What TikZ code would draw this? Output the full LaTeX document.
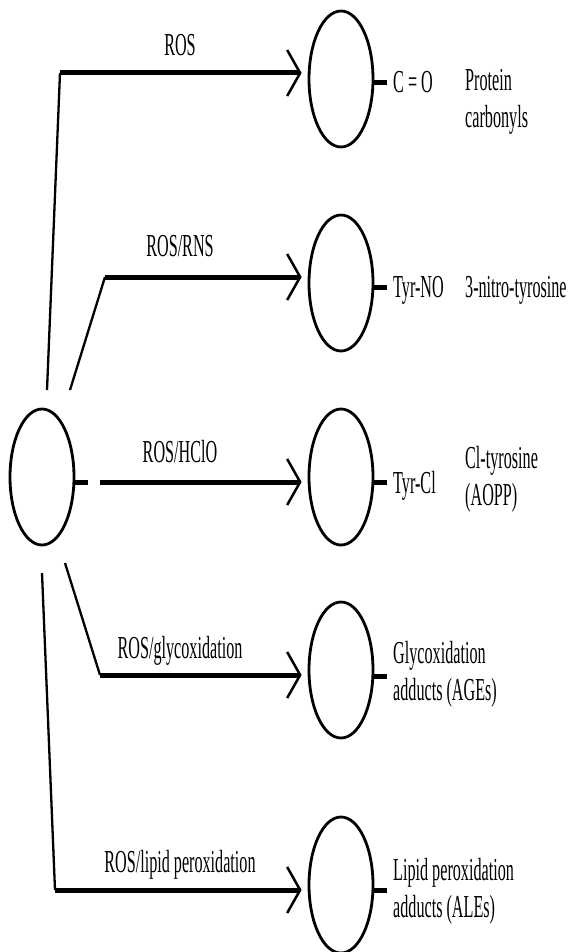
\documentclass[tikz,border=0pt]{standalone}
\usepackage{fontspec}
\setmainfont[FakeStretch=0.505]{Liberation Serif}
\usetikzlibrary{shapes.geometric,arrows.meta}

\begin{document}
\begin{tikzpicture}
            [x=1pt,y=-1pt,every node/.style={inner sep=0pt,font=\fontsize{32}{37}\selectfont},
             pool/.style={ellipse,draw,line width=2.8pt,minimum width=64pt,minimum height=136pt},
             link/.style={line width=2.3pt},
             route/.style={line width=5pt,shorten >=6pt,
                           -{Straight Barb[length=13pt,width=46pt,line width=2.5pt 0]}},
             stub/.style={line width=5pt}]
            \useasboundingbox (0,0) rectangle (573,952);
            \node[pool] (src) at (42,477) {};
            \node[pool] (c1) at (341,79) {};
            \node[pool] (c2) at (341,283) {};
            \node[pool] (c3) at (341,477) {};
            \node[pool] (c4) at (341,670) {};
            \node[pool] (c5) at (341,885) {};
            % bends of the branches
            \coordinate (t1) at (47,390);
            \coordinate (k1) at (60,73);
            \coordinate (t2) at (70,390);
            \coordinate (k2) at (105,277);
            \coordinate (d3) at (88,482);
            \coordinate (k3) at (100,482);
            \coordinate (t4) at (65,563);
            \coordinate (k4) at (100,675);
            \coordinate (t5) at (42,573);
            \coordinate (k5) at (55,890);
            % stub ends
            \coordinate (s1) at (387,83);
            \coordinate (s2) at (387,287);
            \coordinate (s3) at (387,482);
            \coordinate (s4) at (387,676);
            \coordinate (s5) at (387,890);
            % the branches
            \draw[link] (t1) -- (k1);
            \draw[route] (k1) -- (k1 -| c1.west);
            \draw[link] (t2) -- (k2);
            \draw[route] (k2) -- (k2 -| c2.west);
            \draw[stub] (d3 -| src.east) -- (d3);
            \draw[route] (k3) -- (k3 -| c3.west);
            \draw[link] (t4) -- (k4);
            \draw[route] (k4) -- (k4 -| c4.west);
            \draw[link] (t5) -- (k5);
            \draw[route] (k5) -- (k5 -| c5.west);
            % stubs
            \draw[stub] (s1 -| c1.east) -- (s1);
            \draw[stub] (s2 -| c2.east) -- (s2);
            \draw[stub] (s3 -| c3.east) -- (s3);
            \draw[stub] (s4 -| c4.east) -- (s4);
            \draw[stub] (s5 -| c5.east) -- (s5);
            % labels
            \node[anchor=base] (l1) at (180,56) {ROS};
            \node[anchor=base] (l2) at (180,256) {ROS/RNS};
            \node[anchor=base] (l3) at (180,462) {ROS/HClO};
            \node[anchor=base] (l4) at (180,658) {ROS/glycoxidation};
            \node[anchor=base] (l5) at (180,872) {ROS/lipid peroxidation};
            \node[anchor=base west] (g1) at (393,93) {C = O};
            \node[anchor=base west] (g2) at (393,297) {Tyr-NO};
            \node[anchor=base west] (g3) at (393,493) {Tyr-Cl};
            \node[anchor=north west,align=left] (n1) at (465,69) {Protein\\carbonyls};
            \node[anchor=base west] (n2) at (465,297) {3-nitro-tyrosine};
            \node[anchor=north west,align=left] (n3) at (465,446) {Cl-tyrosine\\(AOPP)};
            \node[anchor=north west,align=left] (n4) at (393,641) {Glycoxidation\\adducts (AGEs)};
            \node[anchor=north west,align=left] (n5) at (393,858) {Lipid peroxidation\\adducts (ALEs)};
        \end{tikzpicture}
\end{document}
